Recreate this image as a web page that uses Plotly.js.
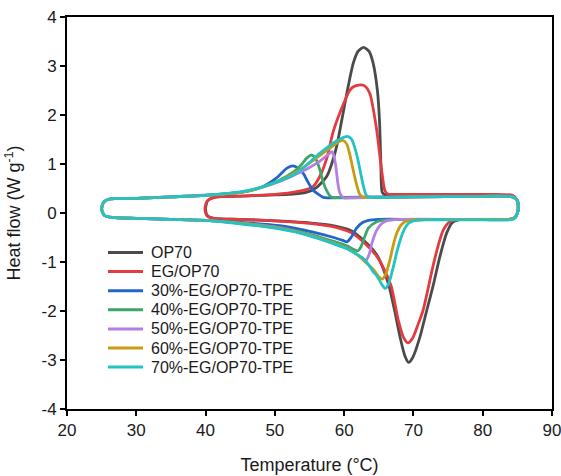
<!DOCTYPE html>
<html>
<head>
<meta charset="utf-8">
<script src="https://cdn.plot.ly/plotly-3.0.1.min.js"></script>
<style>
  html, body { margin: 0; padding: 0; background: #fff; }
  #chart { width: 561px; height: 476px; }
</style>
</head>
<body>
<div id="chart"></div>
<script>
// DSC heat-flow loops: heating (lower branch, melting dip) then cooling (upper branch, crystallisation peak)
const seriesNames = ["OP70", "EG/OP70", "30%-EG/OP70-TPE", "40%-EG/OP70-TPE",
                     "50%-EG/OP70-TPE", "60%-EG/OP70-TPE", "70%-EG/OP70-TPE"];

const tempOP70 = [40.0, 40.3, 41.2, 45, 50, 55, 58, 61, 63, 64.7, 65.6, 66.5, 67.3, 68.1, 68.8, 69.3, 69.9, 70.9, 71.9, 72.9, 73.8, 74.8, 75.6, 76.5, 80, 84.5, 85.1, 85.0, 84.3, 80, 72, 67, 65.9, 65.5, 65.3, 65.1, 64.8, 64.2, 63.6, 62.8, 62.0, 61.3, 60.4, 59.6, 58.9, 58.2, 57.5, 56.0, 54.5, 52, 48, 44, 41.2, 40.3, 40.0];
const flowOP70 = [0.08, -0.06, -0.11, -0.13, -0.16, -0.2, -0.25, -0.36, -0.58, -0.85, -1.12, -1.5, -2.0, -2.55, -2.93, -3.05, -2.95, -2.55, -2.0, -1.45, -0.9, -0.41, -0.2, -0.14, -0.13, -0.11, 0.05, 0.25, 0.34, 0.36, 0.36, 0.36, 0.37, 0.42, 1.02, 1.9, 2.5, 3.05, 3.3, 3.38, 3.3, 3.05, 2.45, 1.85, 1.35, 1.0, 0.75, 0.52, 0.42, 0.38, 0.36, 0.34, 0.32, 0.25, 0.08];

const tempEG = [39.9, 40.2, 41.2, 45, 50, 55, 58, 61, 63, 64.7, 65.6, 66.8, 67.8, 68.6, 69.2, 69.9, 70.6, 71.4, 72.8, 73.6, 74.3, 75.2, 76.0, 80, 84.5, 85.1, 85.0, 84.3, 80, 72, 67, 66.3, 65.9, 65.4, 64.7, 63.7, 62.9, 62.1, 61.4, 60.8, 59.4, 58.4, 57.5, 56.5, 55.5, 53, 50, 46, 42, 41, 40.2, 39.9];
const flowEG = [0.08, -0.06, -0.11, -0.13, -0.16, -0.21, -0.27, -0.4, -0.62, -0.88, -1.1, -1.5, -2.18, -2.55, -2.65, -2.55, -2.3, -1.98, -1.1, -0.65, -0.35, -0.18, -0.14, -0.13, -0.11, 0.05, 0.26, 0.36, 0.38, 0.38, 0.38, 0.39, 0.45, 0.88, 1.69, 2.44, 2.6, 2.61, 2.58, 2.5, 2.05, 1.65, 1.12, 0.75, 0.54, 0.43, 0.38, 0.35, 0.33, 0.31, 0.24, 0.08];

const temp30 = [25.0, 25.4, 26.5, 30, 35, 40, 45, 50.7, 55.5, 58.5, 59.8, 60.4, 61.0, 61.8, 62.6, 63.5, 65, 70, 80, 84.5, 85.1, 85.0, 84.3, 80, 70, 60, 57.6, 57.0, 56.3, 55.5, 54.7, 54.1, 53.3, 52.6, 51.8, 50.2, 48.3, 45.9, 42, 35, 30, 26, 25.3, 25.0];
const flow30 = [0.08, -0.05, -0.09, -0.11, -0.13, -0.15, -0.19, -0.26, -0.39, -0.5, -0.56, -0.59, -0.5, -0.31, -0.2, -0.15, -0.13, -0.13, -0.13, -0.11, 0.05, 0.25, 0.33, 0.34, 0.33, 0.32, 0.31, 0.32, 0.38, 0.47, 0.65, 0.81, 0.92, 0.96, 0.92, 0.71, 0.54, 0.44, 0.38, 0.33, 0.3, 0.28, 0.22, 0.08];

const temp40 = [25.0, 25.4, 26.5, 30, 35, 40, 45, 50, 53.6, 56, 58.5, 60.4, 61.5, 62.0, 62.4, 62.8, 63.5, 64.7, 66, 70, 80, 84.5, 85.1, 85.0, 84.3, 80, 70, 60, 58.6, 58.0, 57.5, 57.0, 56.5, 56.0, 55.6, 55.2, 54.6, 53.8, 52.7, 50.5, 48, 45, 40, 35, 30, 26, 25.3, 25.0];
const flow40 = [0.08, -0.05, -0.09, -0.11, -0.13, -0.15, -0.2, -0.28, -0.38, -0.47, -0.58, -0.67, -0.75, -0.77, -0.7, -0.55, -0.31, -0.18, -0.14, -0.13, -0.13, -0.11, 0.05, 0.25, 0.33, 0.34, 0.33, 0.31, 0.31, 0.34, 0.45, 0.62, 0.88, 1.08, 1.16, 1.18, 1.12, 0.98, 0.84, 0.66, 0.52, 0.42, 0.36, 0.33, 0.3, 0.28, 0.22, 0.08];

const temp50 = [25.0, 25.4, 26.5, 30, 35, 40, 45, 50, 53.6, 56, 58.5, 60.4, 62.0, 63.1, 63.6, 64.0, 64.7, 65.4, 66.1, 68, 80, 84.5, 85.1, 85.0, 84.3, 80, 70, 61, 59.9, 59.4, 59.1, 58.8, 58.5, 58.2, 57.6, 56.5, 55, 53.5, 51, 48, 45, 40, 35, 30, 26, 25.3, 25.0];
const flow50 = [0.08, -0.05, -0.09, -0.11, -0.13, -0.15, -0.21, -0.29, -0.4, -0.5, -0.62, -0.72, -0.86, -0.97, -0.85, -0.62, -0.35, -0.22, -0.16, -0.13, -0.13, -0.11, 0.05, 0.25, 0.33, 0.34, 0.33, 0.31, 0.31, 0.4, 0.6, 0.95, 1.18, 1.25, 1.18, 1.06, 0.93, 0.82, 0.66, 0.52, 0.42, 0.36, 0.33, 0.3, 0.28, 0.22, 0.08];

const temp60 = [25.0, 25.4, 26.5, 30, 35, 40, 45, 50, 53.6, 56, 58.5, 60.4, 62.0, 63.2, 64.2, 65.0, 65.5, 66.0, 66.6, 67.1, 67.6, 68.2, 68.8, 70, 80, 84.5, 85.1, 85.0, 84.3, 80, 70, 64, 63, 62.3, 61.8, 61.3, 60.8, 60.4, 59.9, 59.3, 58, 56, 53.5, 51, 48.3, 45, 40, 35, 30, 26, 25.3, 25.0];
const flow60 = [0.08, -0.05, -0.09, -0.11, -0.13, -0.15, -0.21, -0.3, -0.4, -0.5, -0.62, -0.72, -0.86, -1.02, -1.15, -1.3, -1.35, -1.25, -0.96, -0.65, -0.41, -0.25, -0.18, -0.14, -0.13, -0.11, 0.05, 0.25, 0.33, 0.34, 0.33, 0.32, 0.32, 0.37, 0.58, 0.88, 1.2, 1.4, 1.48, 1.46, 1.33, 1.12, 0.87, 0.68, 0.53, 0.42, 0.36, 0.33, 0.3, 0.28, 0.22, 0.08];

const temp70 = [25.0, 25.4, 26.5, 30, 35, 40, 45, 50, 53.6, 56, 58.5, 60.4, 62.0, 62.7, 63.5, 64.2, 64.7, 65.4, 65.9, 66.4, 67.1, 67.6, 68.1, 68.7, 69.3, 70, 72, 80, 84.5, 85.1, 85.0, 84.3, 80, 70, 64.5, 63.6, 63.2, 62.8, 62.4, 62.0, 61.5, 61.1, 60.6, 60.0, 58.9, 56.5, 53.1, 48.3, 45, 40, 35, 30, 26, 25.3, 25.0];
const flow70 = [0.08, -0.05, -0.09, -0.11, -0.13, -0.15, -0.22, -0.31, -0.41, -0.51, -0.63, -0.73, -0.86, -0.92, -1.05, -1.2, -1.28, -1.45, -1.54, -1.45, -1.1, -0.8, -0.55, -0.33, -0.21, -0.16, -0.14, -0.14, -0.12, 0.04, 0.25, 0.33, 0.34, 0.33, 0.32, 0.33, 0.36, 0.54, 0.8, 1.08, 1.35, 1.5, 1.56, 1.55, 1.47, 1.22, 0.81, 0.54, 0.43, 0.36, 0.33, 0.3, 0.28, 0.22, 0.08];

const xTicks = [20, 30, 40, 50, 60, 70, 80, 90];
const yTicks = [-4, -3, -2, -1, 0, 1, 2, 3, 4];
const yTickText = ["-4", "-3", "-2", "-1", "0", "1", "2", "3", "4"];

const temps = [tempOP70, tempEG, temp30, temp40, temp50, temp60, temp70];
const flows = [flowOP70, flowEG, flow30, flow40, flow50, flow60, flow70];
const colors = ["#4b4b4b", "#e33b40", "#2266cc", "#3ca66b", "#b47fe2", "#c99b12", "#21c3c4"];

const traces = seriesNames.map((name, i) => ({
  type: "scatter",
  mode: "lines",
  name: name,
  x: temps[i],
  y: flows[i],
  line: { color: colors[i], width: 2.8, shape: "spline", smoothing: 0.7 },
  hoverinfo: "skip",
  showlegend: false
}));

const font = "Liberation Sans, Arial, sans-serif";
const textColor = "#1a1a1a";

// Compact key: a short line sample plus a label per series (paper coordinates)
const plotL = 67, plotR = 552, plotT = 17, plotB = 409;
const px2x = p => (p - plotL) / (plotR - plotL);
const px2y = p => (plotB - p) / (plotB - plotT);
const keyShapes = [], keyLabels = [];
seriesNames.forEach((name, i) => {
  const yp = px2y(252.5 + i * 19.1);
  keyShapes.push({
    type: "line", xref: "paper", yref: "paper",
    x0: px2x(108), x1: px2x(143), y0: yp, y1: yp,
    line: { color: colors[i], width: 3 }
  });
  keyLabels.push({
    xref: "paper", yref: "paper", x: px2x(149), y: yp,
    xanchor: "left", yanchor: "middle", showarrow: false,
    text: name, font: { family: font, size: 16, color: textColor }
  });
});

const axisCommon = {
  showgrid: false, zeroline: false,
  showline: true, linecolor: "#000", linewidth: 2, mirror: true,
  ticks: "outside", ticklen: 5, tickwidth: 2, tickcolor: "#000",
  ticklabeloverflow: "allow",
  tickfont: { family: font, size: 17, color: textColor }
};

const layout = {
  width: 561, height: 476,
  margin: { l: 67, r: 9, t: 17, b: 67 },
  paper_bgcolor: "#fff", plot_bgcolor: "#fff",
  showlegend: false,
  shapes: keyShapes,
  annotations: keyLabels,
  xaxis: Object.assign({}, axisCommon, {
    range: [20, 90], tickmode: "array", tickvals: xTicks,
    title: { text: "Temperature (°C)", font: { family: font, size: 18, color: textColor }, standoff: 19 }
  }),
  yaxis: Object.assign({}, axisCommon, {
    range: [-4, 4], tickmode: "array", tickvals: yTicks, ticktext: yTickText,
    title: { text: "Heat flow (W g<sup>-1</sup>)", font: { family: font, size: 18, color: textColor }, standoff: 16 }
  })
};

Plotly.newPlot("chart", traces, layout, { displayModeBar: false, staticPlot: true });
</script>
</body>
</html>
